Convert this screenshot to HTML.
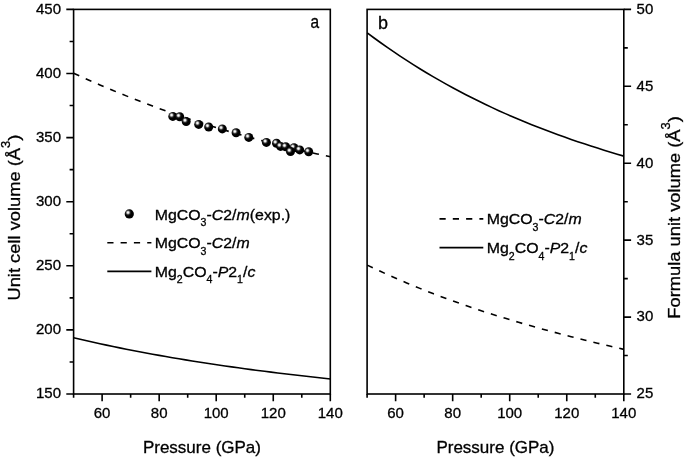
<!DOCTYPE html><html><head><meta charset="utf-8"><style>html,body{margin:0;padding:0;background:#fff;}svg{display:block;will-change:transform;font-family:"Liberation Sans",sans-serif;}</style></head><body>
<svg width="685" height="460" viewBox="0 0 685 460">
<defs><radialGradient id="sph" cx="0.36" cy="0.35" r="0.62" fx="0.36" fy="0.35"><stop offset="0" stop-color="#fff"/><stop offset="0.15" stop-color="#e8e8e8"/><stop offset="0.4" stop-color="#2a2a2a"/><stop offset="0.6" stop-color="#000"/><stop offset="1" stop-color="#000"/></radialGradient></defs>
<rect width="685" height="460" fill="#fff"/>
<g fill="none" stroke="#000" stroke-width="1.6">
<path d="M73.60,73.22 L80.18,76.22 L86.77,79.18 L93.35,82.08 L99.94,84.93 L106.52,87.74 L113.11,90.50 L119.69,93.20 L126.28,95.87 L132.86,98.48 L139.45,101.04 L146.03,103.56 L152.62,106.04 L159.20,108.46 L165.78,110.85 L172.37,113.18 L178.95,115.47 L185.54,117.72 L192.12,119.92 L198.71,122.08 L205.29,124.20 L211.88,126.27 L218.46,128.31 L225.05,130.29 L231.63,132.24 L238.22,134.15 L244.80,136.01 L251.38,137.84 L257.97,139.62 L264.55,141.36 L271.14,143.07 L277.72,144.74 L284.31,146.36 L290.89,147.95 L297.48,149.50 L304.06,151.02 L310.65,152.49 L317.23,153.93 L323.82,155.34 L330.40,156.70" stroke-dasharray="6.2 7.1"/>
<path d="M73.60,337.77 L80.18,339.31 L86.77,340.82 L93.35,342.29 L99.94,343.73 L106.52,345.14 L113.11,346.53 L119.69,347.88 L126.28,349.20 L132.86,350.50 L139.45,351.76 L146.03,353.00 L152.62,354.21 L159.20,355.40 L165.78,356.56 L172.37,357.70 L178.95,358.81 L185.54,359.90 L192.12,360.96 L198.71,362.00 L205.29,363.02 L211.88,364.02 L218.46,365.00 L225.05,365.95 L231.63,366.89 L238.22,367.81 L244.80,368.71 L251.38,369.59 L257.97,370.45 L264.55,371.30 L271.14,372.13 L277.72,372.94 L284.31,373.74 L290.89,374.52 L297.48,375.29 L304.06,376.05 L310.65,376.79 L317.23,377.52 L323.82,378.24 L330.40,378.95"/>
<path d="M367.20,265.13 L373.78,268.27 L380.36,271.34 L386.94,274.34 L393.52,277.27 L400.10,280.14 L406.68,282.95 L413.26,285.69 L419.84,288.37 L426.42,290.99 L432.99,293.55 L439.57,296.06 L446.15,298.51 L452.73,300.91 L459.31,303.26 L465.89,305.56 L472.47,307.80 L479.05,310.00 L485.63,312.16 L492.21,314.27 L498.79,316.33 L505.37,318.36 L511.95,320.34 L518.53,322.29 L525.11,324.20 L531.69,326.07 L538.27,327.91 L544.85,329.72 L551.43,331.49 L558.01,333.24 L564.58,334.96 L571.16,336.65 L577.74,338.31 L584.32,339.95 L590.90,341.57 L597.48,343.17 L604.06,344.75 L610.64,346.31 L617.22,347.86 L623.80,349.39" stroke-dasharray="6.2 7.1"/>
<path d="M367.20,32.87 L373.78,37.74 L380.36,42.50 L386.94,47.14 L393.52,51.67 L400.10,56.09 L406.68,60.40 L413.26,64.61 L419.84,68.71 L426.42,72.72 L432.99,76.62 L439.57,80.43 L446.15,84.14 L452.73,87.76 L459.31,91.28 L465.89,94.72 L472.47,98.07 L479.05,101.34 L485.63,104.53 L492.21,107.63 L498.79,110.66 L505.37,113.61 L511.95,116.49 L518.53,119.29 L525.11,122.03 L531.69,124.70 L538.27,127.30 L544.85,129.84 L551.43,132.31 L558.01,134.73 L564.58,137.09 L571.16,139.40 L577.74,141.65 L584.32,143.85 L590.90,146.00 L597.48,148.11 L604.06,150.17 L610.64,152.19 L617.22,154.17 L623.80,156.11"/>
</g>
<circle cx="172.8" cy="116.4" r="4.5" fill="url(#sph)"/>
<circle cx="179.7" cy="116.8" r="4.5" fill="url(#sph)"/>
<circle cx="186.2" cy="121.6" r="4.5" fill="url(#sph)"/>
<circle cx="198.7" cy="124.4" r="4.5" fill="url(#sph)"/>
<circle cx="208.7" cy="127.0" r="4.5" fill="url(#sph)"/>
<circle cx="222.3" cy="128.9" r="4.5" fill="url(#sph)"/>
<circle cx="236.1" cy="132.8" r="4.5" fill="url(#sph)"/>
<circle cx="248.8" cy="137.4" r="4.5" fill="url(#sph)"/>
<circle cx="266.4" cy="142.4" r="4.5" fill="url(#sph)"/>
<circle cx="276.5" cy="143.3" r="4.5" fill="url(#sph)"/>
<circle cx="280.6" cy="146.4" r="4.5" fill="url(#sph)"/>
<circle cx="285.7" cy="146.8" r="4.5" fill="url(#sph)"/>
<circle cx="294.0" cy="147.7" r="4.5" fill="url(#sph)"/>
<circle cx="290.5" cy="151.6" r="4.5" fill="url(#sph)"/>
<circle cx="299.7" cy="149.9" r="4.5" fill="url(#sph)"/>
<circle cx="308.7" cy="151.8" r="4.5" fill="url(#sph)"/>
<g fill="none" stroke="#000" stroke-width="1.6" stroke-linecap="square">
<rect x="73.6" y="9.4" width="256.70" height="384.60"/>
<rect x="367.1" y="9.4" width="256.70" height="384.60"/>
</g>
<path d="M73.6,394.00H66.30 M73.6,361.95H69.60 M73.6,329.90H66.30 M73.6,297.85H69.60 M73.6,265.80H66.30 M73.6,233.75H69.60 M73.6,201.70H66.30 M73.6,169.65H69.60 M73.6,137.60H66.30 M73.6,105.55H69.60 M73.6,73.50H66.30 M73.6,41.45H69.60 M73.6,9.40H66.30 M623.8,394.00H631.10 M623.8,355.54H627.80 M623.8,317.08H631.10 M623.8,278.62H627.80 M623.8,240.16H631.10 M623.8,201.70H627.80 M623.8,163.24H631.10 M623.8,124.78H627.80 M623.8,86.32H631.10 M623.8,47.86H627.80 M623.8,9.40H631.10 M73.60,394.0V397.80 M367.10,394.0V397.80 M102.12,394.0V401.30 M395.62,394.0V401.30 M130.64,394.0V397.80 M424.14,394.0V397.80 M159.17,394.0V401.30 M452.67,394.0V401.30 M187.69,394.0V397.80 M481.19,394.0V397.80 M216.21,394.0V401.30 M509.71,394.0V401.30 M244.73,394.0V397.80 M538.23,394.0V397.80 M273.26,394.0V401.30 M566.76,394.0V401.30 M301.78,394.0V397.80 M595.28,394.0V397.80 M330.30,394.0V401.30 M623.80,394.0V401.30" fill="none" stroke="#000" stroke-width="1.6"/>
<g font-size="15" fill="#000" stroke="#000" stroke-width="0.3">
<text x="61" y="398.40" text-anchor="end">150</text>
<text x="61" y="334.30" text-anchor="end">200</text>
<text x="61" y="270.20" text-anchor="end">250</text>
<text x="61" y="206.10" text-anchor="end">300</text>
<text x="61" y="142.00" text-anchor="end">350</text>
<text x="61" y="77.90" text-anchor="end">400</text>
<text x="61" y="13.80" text-anchor="end">450</text>
<text x="636.6" y="398.40">25</text>
<text x="636.6" y="321.48">30</text>
<text x="636.6" y="244.56">35</text>
<text x="636.6" y="167.64">40</text>
<text x="636.6" y="90.72">45</text>
<text x="636.6" y="13.80">50</text>
<text x="102.12" y="418.4" text-anchor="middle">60</text>
<text x="395.62" y="418.4" text-anchor="middle">60</text>
<text x="159.17" y="418.4" text-anchor="middle">80</text>
<text x="452.67" y="418.4" text-anchor="middle">80</text>
<text x="216.21" y="418.4" text-anchor="middle">100</text>
<text x="509.71" y="418.4" text-anchor="middle">100</text>
<text x="273.26" y="418.4" text-anchor="middle">120</text>
<text x="566.76" y="418.4" text-anchor="middle">120</text>
<text x="330.30" y="418.4" text-anchor="middle">140</text>
<text x="623.80" y="418.4" text-anchor="middle">140</text>
</g>
<g font-size="17" fill="#000" stroke="#000" stroke-width="0.3">
<text x="201.95" y="453.2" text-anchor="middle">Pressure (GPa)</text>
<text x="495.45" y="453.2" text-anchor="middle">Pressure (GPa)</text>
<text transform="translate(20.3,217.6) rotate(-90) scale(1.078,1)" text-anchor="middle">Unit cell volume (Å<tspan font-size="12" dy="-10">3</tspan><tspan dy="10">)</tspan></text>
<text transform="translate(680.4,217.4) rotate(-90) scale(1.078,1)" text-anchor="middle">Formula unit volume (Å<tspan font-size="12" dy="-10">3</tspan><tspan dy="10">)</tspan></text>
</g>
<g font-size="18" fill="#000" stroke="#000" stroke-width="0.3">
<text transform="translate(310.6,28.4) scale(0.86,1)">a</text>
<text x="378" y="28.8">b</text>
</g>
<g font-size="15" fill="#000">
<circle cx="129.3" cy="213.9" r="4.6" fill="url(#sph)"/>
<text transform="translate(154.7,219.7) scale(1.06,1)" stroke="#000" stroke-width="0.3"><tspan>MgCO</tspan><tspan dy="6.3" font-size="10">3</tspan><tspan dy="-6.3">-</tspan><tspan font-style="italic">C</tspan><tspan>2/</tspan><tspan font-style="italic">m</tspan><tspan>(exp.)</tspan></text>
<path d="M107.3,242.8H151.4" stroke="#000" stroke-width="1.6" stroke-dasharray="6.2 7.1"/>
<text transform="translate(154.7,248.4) scale(1.06,1)" stroke="#000" stroke-width="0.3"><tspan>MgCO</tspan><tspan dy="6.3" font-size="10">3</tspan><tspan dy="-6.3">-</tspan><tspan font-style="italic">C</tspan><tspan>2/</tspan><tspan font-style="italic">m</tspan></text>
<path d="M107.3,271.4H151.4" stroke="#000" stroke-width="1.6"/>
<text transform="translate(154.7,276.8) scale(1.06,1)" stroke="#000" stroke-width="0.3"><tspan>Mg</tspan><tspan dy="6.3" font-size="10">2</tspan><tspan dy="-6.3">CO</tspan><tspan dy="6.3" font-size="10">4</tspan><tspan dy="-6.3">-</tspan><tspan font-style="italic">P</tspan><tspan>2</tspan><tspan dy="6.3" font-size="10">1</tspan><tspan dy="-6.3">/</tspan><tspan font-style="italic">c</tspan></text>
<path d="M439.5,218.9H483.3" stroke="#000" stroke-width="1.6" stroke-dasharray="6.2 7.1"/>
<text transform="translate(486.7,224.4) scale(1.06,1)" stroke="#000" stroke-width="0.3"><tspan>MgCO</tspan><tspan dy="6.3" font-size="10">3</tspan><tspan dy="-6.3">-</tspan><tspan font-style="italic">C</tspan><tspan>2/</tspan><tspan font-style="italic">m</tspan></text>
<path d="M439.5,247.6H483.3" stroke="#000" stroke-width="1.6"/>
<text transform="translate(486.7,253.2) scale(1.06,1)" stroke="#000" stroke-width="0.3"><tspan>Mg</tspan><tspan dy="6.3" font-size="10">2</tspan><tspan dy="-6.3">CO</tspan><tspan dy="6.3" font-size="10">4</tspan><tspan dy="-6.3">-</tspan><tspan font-style="italic">P</tspan><tspan>2</tspan><tspan dy="6.3" font-size="10">1</tspan><tspan dy="-6.3">/</tspan><tspan font-style="italic">c</tspan></text>
</g>
</svg></body></html>
